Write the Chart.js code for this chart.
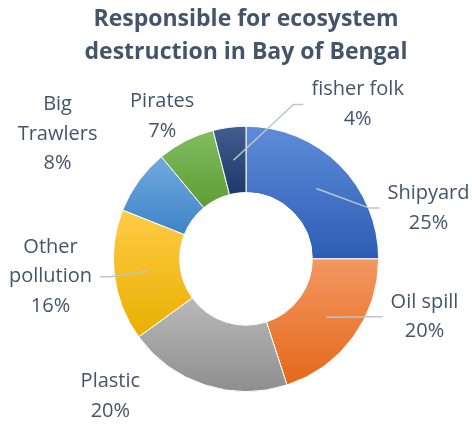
<!DOCTYPE html>
<html>
<head>
<meta charset="utf-8">
<script src="https://cdn.jsdelivr.net/npm/chart.js@4/dist/chart.umd.min.js"></script>
<style>
  html, body { margin: 0; padding: 0; background: #fff; }
  #wrap { width: 472px; height: 426px; }
</style>
</head>
<body>
<div id="wrap"><canvas id="donutChart"></canvas></div>
<script>
// values (share of the blame, %)
const categories = ['Shipyard', 'Oil spill', 'Plastic', 'Other pollution', 'Big Trawlers', 'Pirates', 'fisher folk'];
const shares = [25, 20, 20, 16, 8, 7, 4];
const titleLines = ['Responsible for ecosystem', 'destruction in Bay of Bengal'];

// office style gradient per slice: [top, bottom]
const sliceColors = [
    ['#5F8CDA', '#2D5CB4'],
    ['#F39761', '#E4681A'],
    ['#B9B9B9', '#8E8E8E'],
    ['#FFCB47', '#E8B000'],
    ['#72AADF', '#3E83C6'],
    ['#82BC5F', '#5E9D36'],
    ['#425D8F', '#1D386A'],
];

// label centres relative to donut centre, in outer radii (best-fit spots)
const labelSpots = [
    [1.376, -0.383],
    [1.346, 0.436],
    [-1.023, 1.038],
    [-1.474, 0.135],
    [-1.421, -0.940],
    [-0.632, -1.075],
    [0.842, -1.165],
];
const leaderLines = [true, true, false, true, false, false, true];

const CUTOUT = 0.5;
const textColor = '#44546A';

// vertical gradient spanning the slice's own bounding box
function sliceGradient(context) {
    const chart = context.chart;
    const area = chart.chartArea;
    const i = context.dataIndex;
    const [top, bottom] = sliceColors[i];
    if (!area) return top;
    const cy = (area.top + area.bottom) / 2;
    const R = Math.min(area.width, area.height) / 2;
    const r = R * CUTOUT;
    const total = shares.reduce((a, b) => a + b, 0);
    let before = 0;
    for (let k = 0; k < i; k++) before += shares[k];
    const a0 = -Math.PI / 2 + 2 * Math.PI * before / total;
    const a1 = a0 + 2 * Math.PI * shares[i] / total;
    const ys = [];
    [a0, a1].forEach(a => ys.push(cy + R * Math.sin(a), cy + r * Math.sin(a)));
    if (a0 <= Math.PI / 2 && a1 >= Math.PI / 2) ys.push(cy + R);
    const y0 = Math.min(...ys), y1 = Math.max(...ys);
    const g = chart.ctx.createLinearGradient(0, y0, 0, y1);
    g.addColorStop(0, top);
    g.addColorStop(1, bottom);
    return g;
}

function wrapText(ctx, text, maxWidth) {
    if (ctx.measureText(text).width <= maxWidth) return [text];
    const words = text.split(' ');
    const out = [];
    let line = '';
    words.forEach(w => {
        const test = line ? line + ' ' + w : w;
        if (line && ctx.measureText(test).width > maxWidth) {
            out.push(line);
            line = w;
        } else {
            line = test;
        }
    });
    if (line) out.push(line);
    return out;
}

// category + percent labels outside the ring, with leader lines
const outsideLabels = {
    id: 'outsideLabels',
    afterDatasetsDraw(chart, args, opts) {
        const ctx = chart.ctx;
        const arcs = chart.getDatasetMeta(0).data;
        const total = shares.reduce((a, b) => a + b, 0);
        ctx.save();
        ctx.font = `${opts.size}px ${opts.family}`;
        ctx.textAlign = 'center';
        ctx.textBaseline = 'middle';
        arcs.forEach((arc, i) => {
            const { x, y, startAngle, endAngle, innerRadius, outerRadius } =
                arc.getProps(['x', 'y', 'startAngle', 'endAngle', 'innerRadius', 'outerRadius'], true);
            const mid = (startAngle + endAngle) / 2;
            const ringR = (innerRadius + outerRadius) / 2;
            const px = x + Math.cos(mid) * ringR;
            const py = y + Math.sin(mid) * ringR;

            const lines = wrapText(ctx, categories[i], opts.wrapWidth);
            lines.push(Math.round(shares[i] / total * 100) + '%');
            const lx = x + opts.spots[i][0] * outerRadius;
            const ly = y + opts.spots[i][1] * outerRadius;
            const w = Math.max(...lines.map(t => ctx.measureText(t).width));

            if (opts.leaders[i]) {
                const dir = px < lx ? -1 : 1;
                const edge = lx + dir * (w / 2 + 8);
                ctx.beginPath();
                ctx.moveTo(edge, ly);
                ctx.lineTo(edge + dir * 10, ly);
                ctx.lineTo(px, py);
                ctx.strokeStyle = opts.lineColor;
                ctx.lineWidth = 1.5;
                ctx.stroke();
            }

            ctx.fillStyle = opts.color;
            const startY = ly - (lines.length - 1) * opts.lineHeight / 2;
            lines.forEach((t, k) => ctx.fillText(t, lx, startY + k * opts.lineHeight));
        });
        ctx.restore();
    }
};

const chart = new Chart(document.getElementById('donutChart'), {
    type: 'doughnut',
    data: {
        labels: categories,
        datasets: [{
            data: shares,
            backgroundColor: sliceGradient,
            borderColor: '#ffffff',
            borderWidth: 1,
            hoverOffset: 0,
            offset: 0,
        }]
    },
    options: {
        responsive: true,
        maintainAspectRatio: false,
        animation: false,
        cutout: '50%',
        layout: { padding: { left: 20, right: 0, top: 0, bottom: 34 } },
        plugins: {
            legend: { display: false },
            tooltip: { enabled: false },
            title: {
                display: true,
                text: titleLines,
                color: textColor,
                font: { family: "'Open Sans', sans-serif", size: 23, weight: 'bold', lineHeight: 1.43 },
                padding: { top: 3, bottom: 57 }
            },
            outsideLabels: {
                spots: labelSpots,
                leaders: leaderLines,
                size: 20,
                family: "'Open Sans', sans-serif",
                lineHeight: 29.5,
                wrapWidth: 105,
                color: textColor,
                lineColor: '#BFC5CC'
            }
        }
    },
    plugins: [outsideLabels]
});
</script>
</body>
</html>
